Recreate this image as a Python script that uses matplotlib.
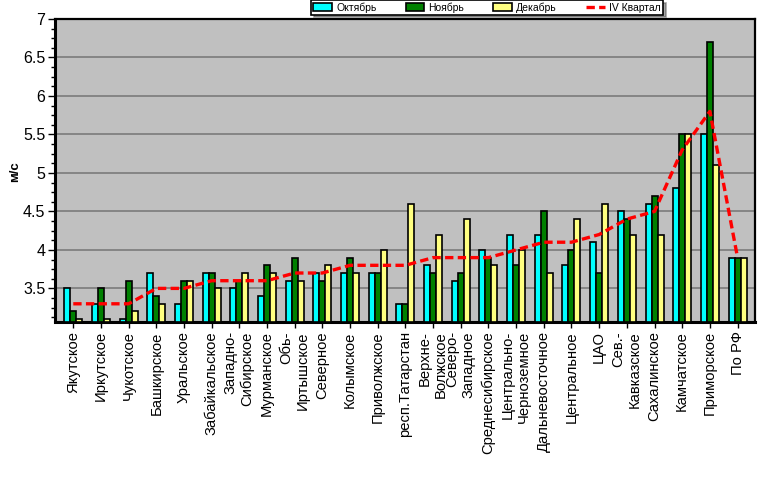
import matplotlib
matplotlib.use("Agg")
import matplotlib.pyplot as plt
import numpy as np
from matplotlib.patches import Patch
from matplotlib.lines import Line2D
from matplotlib.ticker import MultipleLocator, FormatStrFormatter

plt.rcParams['font.family'] = ['Liberation Sans', 'DejaVu Sans']

categories = ["Якутское", "Иркутское", "Чукотское", "Башкирское", "Уральское",
              "Забайкальское", "Западно-\nСибирское", "Мурманское", "Обь-\nИртышское",
              "Северное", "Колымское", "Приволжское", "респ.Татарстан",
              "Верхне-\nВолжское", "Северо-\nЗападное", "Среднесибирское",
              "Центрально-\nЧерноземное", "Дальневосточное", "Центральное", "ЦАО",
              "Сев.-\nКавказское", "Сахалинское", "Камчатское", "Приморское", "По РФ"]

october = [3.5, 3.3, 3.1, 3.7, 3.3, 3.7, 3.5, 3.4, 3.6, 3.7, 3.7, 3.7, 3.3,
           3.8, 3.6, 4.0, 4.2, 4.2, 3.8, 4.1, 4.5, 4.6, 4.8, 5.5, 3.9]
november = [3.2, 3.5, 3.6, 3.4, 3.6, 3.7, 3.6, 3.8, 3.9, 3.6, 3.9, 3.7, 3.3,
            3.7, 3.7, 3.9, 3.8, 4.5, 4.0, 3.7, 4.4, 4.7, 5.5, 6.7, 3.9]
december = [3.1, 3.1, 3.2, 3.3, 3.6, 3.5, 3.7, 3.7, 3.6, 3.8, 3.7, 4.0, 4.6,
            4.2, 4.4, 3.8, 4.0, 3.7, 4.4, 4.6, 4.2, 4.2, 5.5, 5.1, 3.9]
quarter = [3.3, 3.3, 3.3, 3.5, 3.5, 3.6, 3.6, 3.6, 3.7, 3.7, 3.8, 3.8, 3.8,
           3.9, 3.9, 3.9, 4.0, 4.1, 4.1, 4.2, 4.4, 4.5, 5.3, 5.8, 3.9]

series_names = ["Октябрь", "Ноябрь", "Декабрь", "IV Квартал"]

fig = plt.figure(figsize=(7.77, 4.79), dpi=100)
W, H = 777, 479
ax = fig.add_axes([55 / W, 1 - 321.5 / H, 700 / W, (321.5 - 19) / H])
ax.set_facecolor('#C0C0C0')

x = np.arange(len(categories))
bw = 0.217
colors = ['#00FFFF', '#008000', '#FFFF80']
ymin = 3.07
for k, (vals, c) in enumerate(zip([october, november, december], colors)):
    ax.bar(x + (k - 1) * bw, np.array(vals) - ymin, bw, bottom=ymin,
           color=c, edgecolor='black', linewidth=1.2, zorder=3)

dash = (0, (2.5, 1.3))
ax.plot(x, quarter, color='#FF0000', linestyle=dash, linewidth=2.4, zorder=4)

ax.set_ylim(ymin, 7)
ax.set_xlim(-0.66, 24.63)
ax.yaxis.set_major_locator(MultipleLocator(0.5))
ax.yaxis.set_minor_locator(MultipleLocator(0.125))
ax.yaxis.set_major_formatter(FormatStrFormatter('%g'))
ax.yaxis.grid(True, which='major', color='#808080', linewidth=1.3, zorder=0)
ax.set_axisbelow(True)

ax.set_xticks(x)
ax.set_xticklabels(categories, rotation=90, fontsize=10.6, va='top', ha='center',
                   multialignment='right', linespacing=1.2)
ax.tick_params(axis='x', length=4, width=1, pad=3, color='black')
ax.tick_params(axis='y', which='major', length=5, width=1, labelsize=11.5, pad=2)
ax.tick_params(axis='y', which='minor', length=3, width=1)

for s in ['left', 'bottom']:
    ax.spines[s].set_linewidth(2.2)
for s in ['top', 'right']:
    ax.spines[s].set_linewidth(1.6)

fig.text(15 / W, 1 - 172 / H, "м/с", rotation=90, fontsize=9.5, fontweight='bold',
         ha='center', va='center')

handles = [Patch(facecolor=c, edgecolor='black', linewidth=1.2) for c in colors]
handles.append(Line2D([0], [0], color='#FF0000', linestyle=dash, linewidth=2.4))
leg = fig.legend(handles, series_names, loc='upper center', ncol=4,
                 bbox_to_anchor=(487 / W, 1.0), fontsize=7.5,
                 frameon=True, fancybox=False, shadow=True,
                 handlelength=1.8, handleheight=0.9, handletextpad=0.4,
                 columnspacing=2.8, borderpad=0.2, borderaxespad=0)
leg.get_frame().set_edgecolor('black')
leg.get_frame().set_linewidth(1.2)

fig.savefig("out.png", dpi=100)
